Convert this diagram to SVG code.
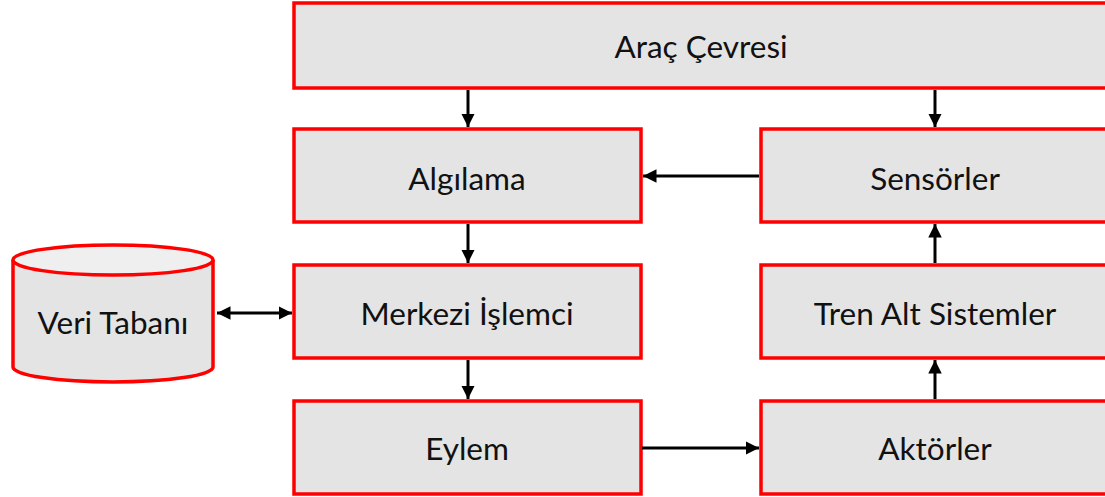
<svg xmlns="http://www.w3.org/2000/svg" width="1105" height="497" viewBox="0 0 1105 497">
<defs>
<style>
.box{fill:#e4e4e4;stroke:#ff0000;stroke-width:3.5}
.lbl{font-family:Lato,"Open Sans","Liberation Sans",sans-serif;font-size:31.5px;fill:#111;text-anchor:middle;dominant-baseline:central}
.con{stroke:#000;stroke-width:3;fill:none}
</style>
<marker id="ah" viewBox="0 0 10 10" refX="10" refY="5" markerWidth="4.5" markerHeight="4.5" orient="auto-start-reverse" markerUnits="strokeWidth">
<path d="M0,0 L10,5 L0,10 z" fill="#000"/>
</marker>
</defs>
<rect width="1105" height="497" fill="#fff"/>
<g id="arac-cevresi"><rect class="box" x="294" y="3" width="816" height="85"/><text class="lbl" x="701" y="46">Araç Çevresi</text></g>
<g id="algilama"><rect class="box" x="294" y="129" width="347" height="93"/><text class="lbl" x="467" y="178">Algılama</text></g>
<g id="sensorler"><rect class="box" x="761" y="129" width="350" height="93"/><text class="lbl" x="935" y="178">Sensörler</text></g>
<g id="merkezi"><rect class="box" x="294" y="265" width="347" height="93"/><text class="lbl" x="467" y="313">Merkezi İşlemci</text></g>
<g id="tren"><rect class="box" x="761" y="265" width="350" height="93"/><text class="lbl" x="935" y="313">Tren Alt Sistemler</text></g>
<g id="eylem"><rect class="box" x="294" y="401" width="347" height="93"/><text class="lbl" x="467" y="448">Eylem</text></g>
<g id="aktorler"><rect class="box" x="761" y="401" width="350" height="93"/><text class="lbl" x="935" y="448">Aktörler</text></g>
<g id="veri-tabani">
<path class="box" d="M13,260 L13,367 A100,15 0 0 0 213,367 L213,260"/>
<ellipse cx="113" cy="260" rx="100" ry="15" fill="#efefef" stroke="#ff0000" stroke-width="3.5"/>
<text class="lbl" x="113" y="322">Veri Tabanı</text>
</g>
<g id="connectors">
<line class="con" x1="468" y1="90" x2="468" y2="127" marker-end="url(#ah)"/>
<line class="con" x1="935" y1="90" x2="935" y2="127" marker-end="url(#ah)"/>
<line class="con" x1="759" y1="176" x2="643" y2="176" marker-end="url(#ah)"/>
<line class="con" x1="468" y1="224" x2="468" y2="263" marker-end="url(#ah)"/>
<line class="con" x1="468" y1="360" x2="468" y2="399" marker-end="url(#ah)"/>
<line class="con" x1="642" y1="448" x2="759" y2="448" marker-end="url(#ah)"/>
<line class="con" x1="935" y1="399" x2="935" y2="360" marker-end="url(#ah)"/>
<line class="con" x1="935" y1="263" x2="935" y2="224" marker-end="url(#ah)"/>
<line class="con" x1="217" y1="313" x2="292" y2="313" marker-start="url(#ah)" marker-end="url(#ah)"/>
</g>
</svg>
